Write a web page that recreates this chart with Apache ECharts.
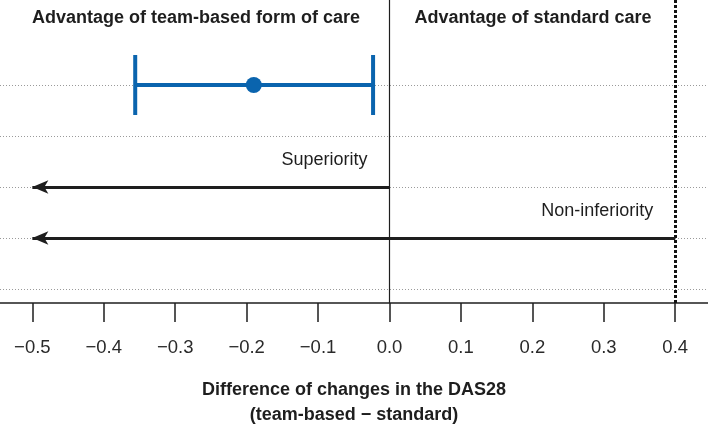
<!DOCTYPE html>
<html>
<head>
<meta charset="utf-8">
<script src="https://cdn.jsdelivr.net/npm/echarts@6/dist/echarts.min.js"></script>
<style>
  html, body { margin: 0; padding: 0; background: #fff; }
  #chart { width: 708px; height: 424px; }
</style>
</head>
<body>
<div id="chart"></div>
<script>
// x ticks of the difference axis
const tickValues = [-0.5, -0.4, -0.3, -0.2, -0.1, 0.0, 0.1, 0.2, 0.3, 0.4]
// horizontal reference rows (bottom to top)
const rowValues = [1, 2, 3, 4, 5]

// estimate with confidence interval
const ciRow = 5
const estimate = -0.19
const ciLower = -0.356
const ciUpper = -0.023

// margins drawn as arrows
const marginNames = ['Superiority', 'Non-inferiority']
const marginFrom = [0.0, 0.4]
const marginTo = [-0.5, -0.5]
const marginRows = [3, 2]

// reference lines
const nullValue = 0.0
const niMargin = 0.4

const sideTitles = ['Advantage of team-based form of care', 'Advantage of standard care']

const FONT = '"Liberation Sans", Arial, sans-serif'
const BLUE = '#0a64ae'
const INK = '#1e1e1e'

const fmt = v => (v < 0 ? '\u2212' : '') + Math.abs(v).toFixed(1)

const chart = echarts.init(document.getElementById('chart'))

const dottedRows = rowValues.map(v => ({
  yAxis: v,
  lineStyle: { color: '#9a9a9a', width: 1, type: [1, 2] }
}))

const arrows = marginNames.map((n, i) => [
  { coord: [marginFrom[i], marginRows[i]] },
  { coord: [marginTo[i], marginRows[i]] }
])

chart.setOption({
  animation: false,
  grid: { left: 0, right: 0, top: 0, bottom: 121, containLabel: false, outerBoundsMode: 'none' },
  xAxis: {
    type: 'value',
    min: -0.5453,
    max: 0.4459,
    axisLine: { lineStyle: { color: INK, width: 1.5 } },
    axisTick: {
      customValues: tickValues,
      inside: false,
      length: 19,
      lineStyle: { color: INK, width: 1.5 }
    },
    axisLabel: {
      customValues: tickValues,
      formatter: fmt,
      margin: 35,
      fontSize: 18.5,
      fontFamily: FONT,
      color: '#2a2a2a'
    },
    splitLine: { show: false },
    name: 'Difference of changes in the DAS28\n(team-based \u2212 standard)',
    nameLocation: 'middle',
    nameGap: 75,
    nameTextStyle: {
      fontSize: 18,
      fontWeight: 'bold',
      fontFamily: FONT,
      color: INK,
      lineHeight: 25
    }
  },
  yAxis: {
    type: 'value',
    min: 0.725,
    max: 6.667,
    show: false,
    splitLine: { show: false }
  },
  graphic: [
    {
      type: 'text', x: 196, y: 18,
      style: {
        text: sideTitles[0], align: 'center', verticalAlign: 'middle',
        font: 'bold 18px ' + FONT, fill: INK
      }
    },
    {
      type: 'text', x: 533, y: 18,
      style: {
        text: sideTitles[1], align: 'center', verticalAlign: 'middle',
        font: 'bold 18px ' + FONT, fill: INK
      }
    }
  ],
  series: [
    {
      // background rows + reference lines
      type: 'line',
      data: [],
      silent: true,
      markLine: {
        silent: true,
        symbol: 'none',
        label: { show: false },
        data: dottedRows.concat([
          { xAxis: nullValue, lineStyle: { color: INK, width: 1.2, type: 'solid' } },
          { xAxis: niMargin, lineStyle: { color: '#111', width: 3, type: [3, 2] } }
        ])
      }
    },
    {
      // margin arrows
      type: 'line',
      data: [],
      silent: true,
      markLine: {
        silent: true,
        symbol: ['none', 'arrow'],
        symbolSize: [10, 16],
        label: { show: false },
        lineStyle: { color: INK, width: 3, type: 'solid' },
        data: arrows
      }
    },
    {
      // margin labels
      type: 'scatter',
      symbolSize: 0,
      silent: true,
      itemStyle: { opacity: 1 },
      data: marginNames.map((n, i) => ({ value: [marginFrom[i], marginRows[i]], name: n })),
      label: {
        show: true,
        position: 'left',
        distance: 22,
        offset: [0, -27],
        formatter: p => p.name,
        fontSize: 18,
        fontFamily: FONT,
        color: INK,
        opacity: 1
      }
    },
    {
      // confidence interval
      type: 'custom',
      silent: true,
      data: [[ciLower, ciUpper, ciRow]],
      renderItem: (params, api) => {
        const lo = api.coord([api.value(0), api.value(2)])
        const hi = api.coord([api.value(1), api.value(2)])
        const cap = 30
        const style = { stroke: BLUE, lineWidth: 4 }
        return {
          type: 'group',
          children: [
            { type: 'line', shape: { x1: lo[0], y1: lo[1], x2: hi[0], y2: hi[1] }, style },
            { type: 'line', shape: { x1: lo[0], y1: lo[1] - cap, x2: lo[0], y2: lo[1] + cap }, style },
            { type: 'line', shape: { x1: hi[0], y1: hi[1] - cap, x2: hi[0], y2: hi[1] + cap }, style }
          ]
        }
      },
      z: 5
    },
    {
      // point estimate
      type: 'scatter',
      silent: true,
      data: [[estimate, ciRow]],
      symbol: 'circle',
      symbolSize: 16,
      itemStyle: { color: BLUE, opacity: 1 },
      z: 6
    }
  ]
})
</script>
</body>
</html>
